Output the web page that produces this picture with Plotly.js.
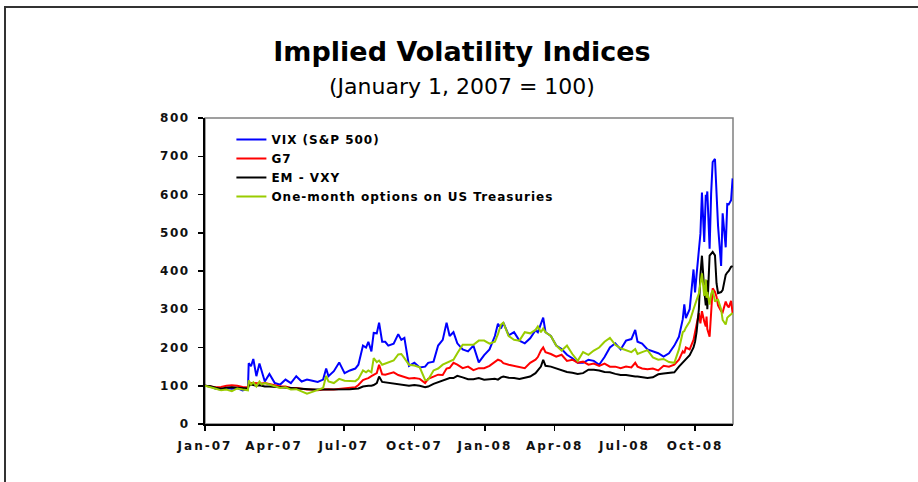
<!DOCTYPE html>
<html>
<head>
<meta charset="utf-8">
<script src="https://cdn.plot.ly/plotly-3.0.1.min.js"></script>
<style>
  html, body { margin: 0; padding: 0; background: #ffffff; }
  #wrap { position: relative; width: 918px; height: 482px; overflow: hidden; }
  #chart { position: absolute; left: 0; top: 0; width: 918px; height: 482px; }
  #frame { position: absolute; left: 4px; top: 6px; width: 920px; height: 480px;
           border-top: 2px solid #333; border-left: 2px solid #333; pointer-events: none; }
  .xtick text { letter-spacing: 2px; }
  .ytick text { letter-spacing: 1.5px; }
  .legendtext { letter-spacing: 1px; }
</style>
</head>
<body>
<div id="wrap">
  <div id="chart"></div>
  <div id="frame"></div>
</div>
<script>
const dates = [
  "2007-01-01","2007-01-08","2007-01-15","2007-01-22","2007-01-29","2007-02-05","2007-02-12","2007-02-19","2007-02-26","2007-02-27",
  "2007-03-02","2007-03-05","2007-03-09","2007-03-13","2007-03-16","2007-03-20","2007-03-26","2007-04-02","2007-04-09","2007-04-16",
  "2007-04-23","2007-04-30","2007-05-07","2007-05-14","2007-05-21","2007-05-28","2007-06-04","2007-06-08","2007-06-11","2007-06-18",
  "2007-06-25","2007-07-02","2007-07-09","2007-07-16","2007-07-20","2007-07-26","2007-07-30","2007-08-02","2007-08-06","2007-08-09",
  "2007-08-13","2007-08-16","2007-08-20","2007-08-24","2007-08-28","2007-09-04","2007-09-10","2007-09-14","2007-09-18","2007-09-24",
  "2007-10-01","2007-10-08","2007-10-15","2007-10-19","2007-10-26","2007-11-01","2007-11-07","2007-11-12","2007-11-16","2007-11-21",
  "2007-11-26","2007-12-03","2007-12-10","2007-12-17","2007-12-24","2007-12-31","2008-01-07","2008-01-14","2008-01-18","2008-01-22",
  "2008-01-25","2008-02-01","2008-02-08","2008-02-15","2008-02-22","2008-02-29","2008-03-07","2008-03-10","2008-03-14","2008-03-17",
  "2008-03-20","2008-03-27","2008-04-03","2008-04-10","2008-04-17","2008-04-24","2008-05-01","2008-05-08","2008-05-15","2008-05-22",
  "2008-05-29","2008-06-05","2008-06-12","2008-06-19","2008-06-26","2008-07-03","2008-07-10","2008-07-15","2008-07-18","2008-07-24",
  "2008-07-31","2008-08-07","2008-08-14","2008-08-21","2008-08-28","2008-09-04","2008-09-10","2008-09-15","2008-09-17","2008-09-19",
  "2008-09-24","2008-09-29","2008-10-01","2008-10-03","2008-10-06","2008-10-08","2008-10-10","2008-10-13","2008-10-15","2008-10-16",
  "2008-10-17","2008-10-20","2008-10-22","2008-10-24","2008-10-27","2008-10-29","2008-10-31","2008-11-04","2008-11-06","2008-11-10",
  "2008-11-12","2008-11-14","2008-11-17","2008-11-19"
];

const vix = [
  100,98,92,90,94,92,94,88,92,159,
  151,170,125,158,138,111,131,107,103,116,
  107,125,111,116,113,110,116,145,125,138,
  161,133,140,145,155,205,200,215,190,238,
  237,265,215,215,205,210,235,220,225,152,
  160,148,150,160,163,205,220,265,230,240,
  211,195,190,205,161,180,195,230,262,250,
  265,232,240,218,211,224,245,240,262,278,
  240,230,205,196,181,172,160,160,168,165,
  155,175,200,211,195,218,222,246,215,210,
  195,190,185,176,185,205,228,274,313,277,
  300,404,344,390,450,497,605,476,599,585,
  608,458,603,685,693,605,518,413,551,462,
  575,574,585,642
];

const g7 = [
  100,98,96,97,100,101,100,97,96,103,
  107,107,106,105,106,107,104,101,98,98,
  94,94,92,90,90,88,90,91,91,90,
  91,93,94,96,102,115,118,120,125,129,
  133,155,130,129,131,135,128,125,123,119,
  120,118,107,118,124,129,128,145,147,160,
  155,146,150,141,146,146,152,163,168,165,
  159,155,152,150,146,160,168,175,192,200,
  188,183,176,181,165,168,160,163,155,158,
  152,158,150,150,146,150,148,160,150,145,
  143,145,140,152,150,155,168,190,185,200,
  195,220,240,258,290,263,295,268,255,281,
  248,228,298,355,345,333,310,295,292,320,
  310,305,322,290
];

const emvxy = [
  100,99,95,92,95,96,95,94,93,100,
  103,102,100,101,99,98,98,97,96,94,
  94,92,92,90,90,90,90,91,90,90,
  90,91,91,92,93,98,100,100,100,102,
  107,124,110,109,108,106,103,102,101,100,
  102,100,96,98,105,109,115,117,120,120,
  126,122,117,117,120,116,117,118,116,122,
  124,121,120,118,121,124,133,140,150,168,
  152,150,145,140,136,134,131,133,142,142,
  140,136,135,131,128,128,125,124,124,122,
  120,122,130,132,133,135,150,160,166,170,
  180,200,215,240,300,390,440,350,310,376,
  300,440,446,450,441,368,342,345,350,390,
  396,400,411,413
];

const treas = [
  100,97,92,88,90,86,93,90,88,114,
  103,109,98,111,103,107,103,98,94,96,
  90,91,85,79,84,88,94,126,111,107,
  118,113,112,112,118,140,135,140,135,172,
  162,166,155,158,160,166,182,183,172,155,
  153,148,115,116,140,145,155,160,165,168,
  185,207,207,207,218,218,210,215,235,260,
  265,230,220,218,240,237,246,255,240,250,
  240,230,205,192,205,183,165,188,181,192,
  200,215,225,207,198,192,188,196,183,188,
  193,174,168,170,162,160,195,240,243,252,
  268,300,310,324,341,370,394,335,378,330,
  345,312,340,350,320,324,325,300,272,260,
  278,282,287,290
];

const seriesNames = ["VIX (S&P 500)", "G7", "EM - VXY", "One-month options on US Treasuries"];
const seriesColors = ["#0000ff", "#ff0000", "#000000", "#99cc00"];
const seriesValues = [vix, g7, emvxy, treas];

const yTicks = [0, 100, 200, 300, 400, 500, 600, 700, 800];

const traces = seriesValues.map((vals, i) => ({
  type: "scatter",
  mode: "lines",
  x: dates,
  y: vals,
  name: seriesNames[i],
  line: { color: seriesColors[i], width: 2 },
  hoverinfo: "skip"
}));

const tickFont = { family: "DejaVu Sans, Verdana, sans-serif", size: 12, color: "#111111", weight: "bold" };

const layout = {
  width: 918,
  height: 482,
  margin: { l: 205, r: 185, t: 118, b: 58 },
  paper_bgcolor: "rgba(0,0,0,0)",
  plot_bgcolor: "#ffffff",
  showlegend: true,
  title: {
    text: "<b>Implied Volatility Indices</b>",
    font: { family: "DejaVu Sans, Verdana, sans-serif", size: 27, color: "#000000" },
    xref: "container", yref: "container",
    x: 462 / 918, xanchor: "center",
    y: 1 - 52 / 482, yanchor: "middle"
  },
  annotations: [{
    text: "(January 1, 2007 = 100)",
    xref: "paper", yref: "paper",
    x: (462 - 205) / 528, xanchor: "center",
    y: 1 + (118 - 87) / 306, yanchor: "middle",
    showarrow: false,
    font: { family: "DejaVu Sans, Verdana, sans-serif", size: 22, color: "#000000" }
  }],
  xaxis: {
    type: "date",
    range: ["2007-01-01", "2008-11-19 12:00"],
    tick0: "2007-01-01",
    dtick: "M3",
    tickformat: "%b-%y",
    ticks: "outside",
    ticklen: 5,
    tickwidth: 1.5,
    tickcolor: "#000000",
    showline: true,
    linecolor: "#000000",
    linewidth: 2,
    showgrid: false,
    zeroline: false,
    tickfont: tickFont,
    ticklabelstandoff: 5,
    fixedrange: true
  },
  yaxis: {
    range: [0, 800],
    tickvals: yTicks,
    ticktext: yTicks.map(String),
    ticks: "outside",
    ticklen: 5,
    tickwidth: 1.5,
    tickcolor: "#000000",
    showline: true,
    linecolor: "#000000",
    linewidth: 2,
    showgrid: false,
    zeroline: false,
    tickfont: tickFont,
    ticklabelstandoff: 6,
    fixedrange: true
  },
  shapes: [{
    type: "rect", xref: "paper", yref: "paper",
    x0: 0, x1: 1, y0: 0, y1: 1,
    line: { color: "#808080", width: 1.5 },
    layer: "below"
  }],
  legend: {
    x: 0.05, y: 0.977,
    xanchor: "left", yanchor: "top",
    bgcolor: "rgba(0,0,0,0)",
    borderwidth: 0,
    font: { family: "DejaVu Sans, Verdana, sans-serif", size: 12, color: "#000000", weight: "bold" },
    tracegroupgap: 0
  },
  hovermode: false
};

Plotly.newPlot("chart", traces, layout, { displayModeBar: false, staticPlot: true });
</script>
</body>
</html>
